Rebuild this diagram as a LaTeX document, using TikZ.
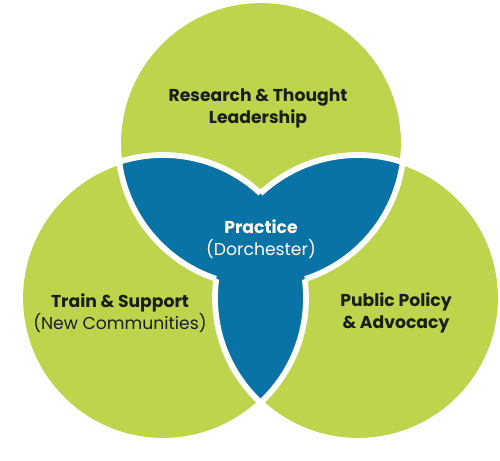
\documentclass[tikz,border=0pt]{standalone}
\usepackage{fontspec}
\setmainfont{Poppins}
\usepackage{tikz}
\usetikzlibrary{positioning}

\definecolor{venngreen}{HTML}{BDD44C}
\definecolor{vennblue}{HTML}{0A73A6}
\definecolor{venntext}{HTML}{1B1E12}
\def\vennrad{2.86}

\begin{document}
\begin{tikzpicture}[
			area/.style={fill=venngreen},
			core/.style={fill=vennblue},
			border/.style={draw=white, line width=3.3pt},
			area_txt/.style={align=center, font=\fontsize{9.8}{12.6}\selectfont, text=venntext},
			core_txt/.style={align=center, font=\fontsize{9.8}{12.6}\selectfont, text=white}
			]
			\useasboundingbox (0,0) rectangle (10,9.2);
			
			% Centros dos circulos
			\coordinate (research) at (5.22, 6.34);
			\coordinate (train)    at (3.26, 3.24);
			\coordinate (policy)   at (7.16, 3.24);
			
			% Circulos verdes
			\foreach \c in {research, train, policy}
				\fill[area] (\c) circle (\vennrad);
			
			% Intersecoes em azul
			\foreach \a/\b in {research/train, research/policy, train/policy}{
				\begin{scope}
					\clip (\a) circle (\vennrad);
					\fill[core] (\b) circle (\vennrad);
				\end{scope}
			}
			
			% Contornos brancos, fora da intersecao dos outros dois
			\foreach \c/\o in {research/train, research/policy, train/research, train/policy, policy/research, policy/train}{
				\begin{scope}
					\clip (-1,-1) -- (-1,10) -- (11,10) -- (11,-1) -- cycle (\o) circle (\vennrad);
					\draw[border] (\c) circle (\vennrad);
				\end{scope}
			}
			
			% Rotulos
			\node[area_txt] (research_lbl) at (5.16, 7.04) {\textbf{Research \& Thought}\\\textbf{Leadership}};
			\node[core_txt] (practice_lbl) at (5.22, 4.42) {\textbf{Practice}\\(Dorchester)};
			\node[area_txt] (train_lbl)    at (2.40, 2.94) {\textbf{Train \& Support}\\(New Communities)};
			\node[area_txt] (policy_lbl)   at (7.92, 2.94) {\textbf{Public Policy}\\\textbf{\& Advocacy}};
			
		\end{tikzpicture}
\end{document}
